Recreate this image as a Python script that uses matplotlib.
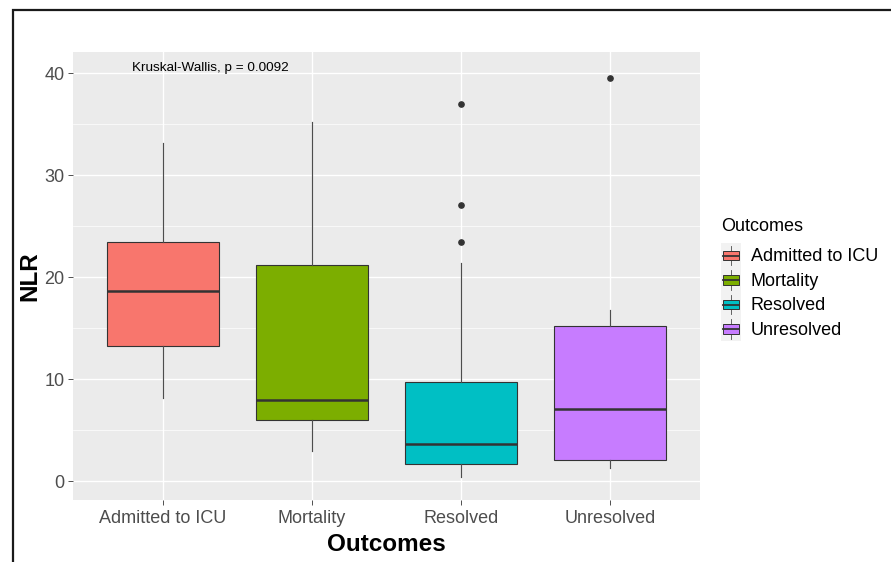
import matplotlib
matplotlib.use("Agg")
import matplotlib.pyplot as plt
from matplotlib.patches import Rectangle
from matplotlib.lines import Line2D
from matplotlib.legend_handler import HandlerBase

plt.rcParams['font.family'] = ['Liberation Sans', 'DejaVu Sans']

# ---- data ----
categories = ["Admitted to ICU", "Mortality", "Resolved", "Unresolved"]
colors = ["#F8766D", "#7CAE00", "#00BFC4", "#C77CFF"]
q1 = [13.2, 6.0, 1.65, 2.05]
medians = [18.6, 7.9, 3.65, 7.05]
q3 = [23.4, 21.2, 9.7, 15.2]
whisk_lo = [8.1, 2.9, 0.35, 1.25]
whisk_hi = [33.1, 35.2, 21.4, 16.8]
outliers = [[], [], [37.0, 27.1, 23.4], [39.5]]
yticks = [0, 10, 20, 30, 40]
annotation = "Kruskal-Wallis, p = 0.0092"

W, H = 891, 562
fig = plt.figure(figsize=(W / 100, H / 100), dpi=100)
ax = fig.add_axes([73 / W, 1 - 500 / H, (700 - 73) / W, (500 - 52) / H])
ax.set_facecolor("#EBEBEB")

stats = []
for i, c in enumerate(categories):
    stats.append(dict(label=c, q1=q1[i], med=medians[i], q3=q3[i],
                      whislo=whisk_lo[i], whishi=whisk_hi[i], fliers=outliers[i]))
pos = list(range(1, len(categories) + 1))
bp = ax.bxp(stats, positions=pos, widths=0.75, patch_artist=True, showcaps=False,
            boxprops=dict(edgecolor="#333333", linewidth=0.8),
            medianprops=dict(color="#333333", linewidth=1.8, solid_capstyle="butt"),
            whiskerprops=dict(color="#4D4D4D", linewidth=0.85),
            flierprops=dict(marker="o", markerfacecolor="#333333", markeredgecolor="#333333",
                            markersize=3.8, linestyle="none"),
            zorder=3)
for patch, col in zip(bp["boxes"], colors):
    patch.set_facecolor(col)

ax.set_xlim(0.4, 4.6)
ax.set_ylim(-1.86, 42.06)
ax.set_xticks(pos)
ax.set_xticklabels(categories)
ax.set_yticks(yticks)
ax.set_yticks([5, 15, 25, 35], minor=True)
ax.grid(True, which="major", color="white", linewidth=1.0, zorder=0)
ax.grid(True, which="minor", axis="y", color="white", linewidth=0.5, zorder=0)
ax.set_axisbelow(True)
for s in ax.spines.values():
    s.set_visible(False)
ax.tick_params(axis="both", which="major", length=3.5, width=0.6, color="#333333",
               labelsize=13, labelcolor="#4D4D4D", pad=2.5)
ax.tick_params(axis="x", which="major", pad=4)
ax.tick_params(axis="y", which="minor", length=0)
ax.set_xlabel("Outcomes", fontsize=17.5, fontweight="bold", labelpad=4)
ax.set_ylabel("NLR", fontsize=17.5, fontweight="bold", labelpad=2)

ax.text(1.317, 40.5, annotation, ha="center", va="center", fontsize=9.7, color="black")


# ---- legend with mini boxplot keys ----
class BoxKey(HandlerBase):
    def create_artists(self, legend, orig, xd, yd, width, height, fontsize, trans):
        x0, y0 = -xd, -yd
        bg = Rectangle((x0, y0), width, height, facecolor="#F2F2F2", edgecolor="none",
                       transform=trans)
        bh = height * 0.40
        by = y0 + (height - bh) / 2
        bw = width * 0.82
        bx = x0 + (width - bw) / 2
        cx = x0 + width / 2
        w1 = Line2D([cx, cx], [y0 + height * 0.1, by], color="#4D4D4D", lw=0.6, transform=trans)
        w2 = Line2D([cx, cx], [by + bh, y0 + height * 0.9], color="#4D4D4D", lw=0.6, transform=trans)
        box = Rectangle((bx, by), bw, bh, facecolor=orig.get_facecolor(), edgecolor="#333333",
                        lw=0.7, transform=trans)
        med = Line2D([bx, bx + bw], [by + bh / 2, by + bh / 2], color="#333333", lw=1.3,
                     transform=trans)
        return [bg, w1, w2, box, med]


handles = [Rectangle((0, 0), 1, 1, facecolor=c) for c in colors]
fs = 13
leg = fig.legend(handles, categories, title="Outcomes", loc="upper left",
                 bbox_to_anchor=(721 / W, 1 - 218 / H), frameon=False, fontsize=fs,
                 title_fontsize=13, handler_map={Rectangle: BoxKey()},
                 handlelength=20 / 18.06, handleheight=1.71, labelspacing=0,
                 handletextpad=0.55, borderpad=0, borderaxespad=0)
leg._legend_box.align = "left"
leg._legend_box.sep = 6

# outer frame (cropped on right/bottom)
fig.patches.append(Rectangle((12.5 / W, -0.5), 2.0, 0.5 + (1 - 10 / H), fill=False,
                             edgecolor="#1A1A1A", linewidth=1.6, transform=fig.transFigure))

fig.savefig("out.png", dpi=100, facecolor="white")
